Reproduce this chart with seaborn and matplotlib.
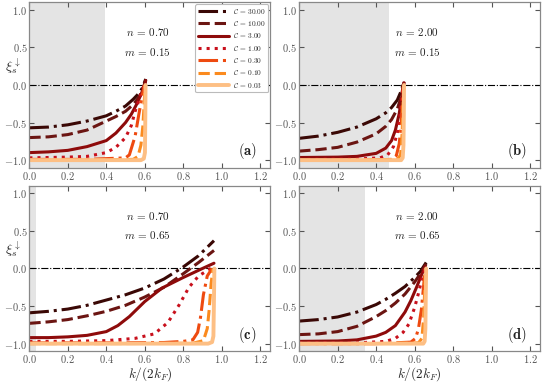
import matplotlib
matplotlib.use('Agg')
import matplotlib.pyplot as plt
import seaborn as sns
from matplotlib.ticker import FuncFormatter, MultipleLocator

# --- data ---
c_values = [30.00, 10.00, 3.00, 1.00, 0.30, 0.10, 0.03]
c_colors = ['#3a0805', '#6b1512', '#8e0b0b', '#c8101c', '#ee4a10', '#fb8a1e', '#fdbf84']
c_styles = ['-.', '--', '-', ':', '-.', '--', '-']

panel_tags = ['a', 'b', 'c', 'd']
panel_n = [0.70, 2.00, 0.70, 2.00]
panel_m = [0.15, 0.15, 0.65, 0.65]
shade_end = [0.393, 0.466, 0.033, 0.341]

# panel (a)
a_k = [
    [0.0, 0.1, 0.2, 0.3, 0.4, 0.45, 0.5, 0.54, 0.57, 0.59, 0.605],
    [0.0, 0.1, 0.2, 0.3, 0.4, 0.45, 0.5, 0.54, 0.57, 0.59, 0.605],
    [0.0, 0.1, 0.2, 0.3, 0.4, 0.45, 0.5, 0.53, 0.555, 0.58, 0.6, 0.605],
    [0.0, 0.2, 0.3, 0.4, 0.45, 0.5, 0.53, 0.55, 0.57, 0.585, 0.6],
    [0.0, 0.3, 0.5, 0.52, 0.55, 0.57, 0.59, 0.6],
    [0.0, 0.3, 0.54, 0.565, 0.58, 0.59, 0.597, 0.602],
    [0.0, 0.3, 0.58, 0.595, 0.601, 0.603, 0.604],
]
a_xi = [
    [-0.57, -0.56, -0.53, -0.48, -0.41, -0.35, -0.28, -0.19, -0.11, -0.03, 0.08],
    [-0.70, -0.69, -0.66, -0.60, -0.48, -0.42, -0.35, -0.26, -0.16, -0.06, 0.07],
    [-0.90, -0.89, -0.87, -0.82, -0.74, -0.64, -0.50, -0.39, -0.27, -0.13, 0.0, 0.06],
    [-0.97, -0.96, -0.95, -0.90, -0.83, -0.70, -0.54, -0.35, -0.20, -0.08, 0.02],
    [-0.99, -0.99, -0.97, -0.93, -0.68, -0.38, -0.10, 0.0],
    [-1.0, -1.0, -0.99, -0.95, -0.80, -0.55, -0.25, 0.0],
    [-1.0, -1.0, -1.0, -0.98, -0.90, -0.40, 0.0],
]

# panel (b)
b_k = [
    [0.0, 0.1, 0.2, 0.3, 0.4, 0.45, 0.48, 0.51, 0.53, 0.545],
    [0.0, 0.1, 0.2, 0.3, 0.4, 0.45, 0.48, 0.51, 0.53, 0.545],
    [0.0, 0.2, 0.3, 0.4, 0.45, 0.48, 0.5, 0.52, 0.535, 0.545],
    [0.0, 0.3, 0.42, 0.46, 0.49, 0.51, 0.525, 0.535, 0.54],
    [0.0, 0.3, 0.48, 0.505, 0.52, 0.53, 0.537, 0.542],
    [0.0, 0.3, 0.51, 0.527, 0.535, 0.54, 0.543],
    [0.0, 0.3, 0.53, 0.538, 0.542, 0.544, 0.545],
]
b_xi = [
    [-0.71, -0.68, -0.63, -0.56, -0.45, -0.37, -0.30, -0.20, -0.08, 0.06],
    [-0.88, -0.86, -0.83, -0.76, -0.65, -0.55, -0.46, -0.32, -0.16, 0.04],
    [-0.965, -0.96, -0.95, -0.91, -0.84, -0.74, -0.60, -0.38, -0.12, 0.03],
    [-0.99, -0.985, -0.97, -0.93, -0.82, -0.64, -0.40, -0.15, 0.0],
    [-1.0, -1.0, -0.99, -0.94, -0.78, -0.52, -0.22, 0.0],
    [-1.0, -1.0, -0.99, -0.93, -0.65, -0.25, 0.0],
    [-1.0, -1.0, -1.0, -0.97, -0.80, -0.35, 0.0],
]

# panel (c)
c_k = [
    [0.0, 0.1, 0.2, 0.3, 0.4, 0.5, 0.6, 0.7, 0.8, 0.88, 0.96],
    [0.0, 0.1, 0.2, 0.3, 0.4, 0.5, 0.6, 0.7, 0.8, 0.88, 0.96],
    [0.0, 0.1, 0.2, 0.3, 0.4, 0.46, 0.52, 0.6, 0.69, 0.8, 0.9, 0.96],
    [0.0, 0.2, 0.4, 0.55, 0.65, 0.72, 0.78, 0.83, 0.88, 0.93, 0.955],
    [0.0, 0.4, 0.7, 0.8, 0.85, 0.875, 0.89, 0.905, 0.925, 0.95],
    [0.0, 0.4, 0.85, 0.905, 0.925, 0.935, 0.945, 0.955],
    [0.0, 0.5, 0.93, 0.95, 0.957, 0.96, 0.962],
]
c_xi = [
    [-0.59, -0.57, -0.54, -0.49, -0.42, -0.35, -0.26, -0.14, 0.02, 0.17, 0.37],
    [-0.73, -0.71, -0.68, -0.63, -0.57, -0.49, -0.38, -0.25, -0.07, 0.08, 0.24],
    [-0.92, -0.92, -0.91, -0.89, -0.84, -0.76, -0.64, -0.44, -0.26, -0.12, 0.0, 0.07],
    [-0.97, -0.97, -0.96, -0.93, -0.87, -0.72, -0.48, -0.25, -0.10, -0.02, 0.02],
    [-0.99, -0.99, -0.985, -0.97, -0.95, -0.85, -0.65, -0.35, -0.10, 0.0],
    [-1.0, -1.0, -0.995, -0.96, -0.80, -0.55, -0.20, 0.0],
    [-1.0, -1.0, -1.0, -0.98, -0.90, -0.40, 0.0],
]

# panel (d)
d_k = [
    [0.0, 0.1, 0.2, 0.3, 0.4, 0.45, 0.5, 0.55, 0.6, 0.63, 0.66],
    [0.0, 0.1, 0.2, 0.3, 0.4, 0.45, 0.5, 0.55, 0.6, 0.63, 0.66],
    [0.0, 0.2, 0.3, 0.4, 0.45, 0.5, 0.55, 0.58, 0.61, 0.635, 0.655],
    [0.0, 0.3, 0.45, 0.5, 0.54, 0.57, 0.6, 0.62, 0.64, 0.655],
    [0.0, 0.4, 0.58, 0.605, 0.62, 0.635, 0.645, 0.655],
    [0.0, 0.4, 0.62, 0.638, 0.647, 0.653, 0.657],
    [0.0, 0.4, 0.645, 0.652, 0.656, 0.658, 0.66],
]
d_xi = [
    [-0.70, -0.68, -0.645, -0.58, -0.48, -0.41, -0.33, -0.24, -0.12, -0.04, 0.08],
    [-0.88, -0.87, -0.84, -0.77, -0.64, -0.56, -0.46, -0.34, -0.18, -0.07, 0.06],
    [-0.97, -0.965, -0.95, -0.90, -0.85, -0.76, -0.58, -0.43, -0.25, -0.09, 0.03],
    [-0.99, -0.99, -0.97, -0.93, -0.85, -0.74, -0.52, -0.33, -0.12, 0.0],
    [-1.0, -1.0, -0.98, -0.93, -0.80, -0.55, -0.28, 0.0],
    [-1.0, -1.0, -0.99, -0.93, -0.65, -0.25, 0.0],
    [-1.0, -1.0, -1.0, -0.97, -0.80, -0.35, 0.0],
]

panel_k = [a_k, b_k, c_k, d_k]
panel_xi = [a_xi, b_xi, c_xi, d_xi]

# --- style ---
sns.set_style('ticks')
plt.rcParams['font.family'] = ['DejaVu Serif']
plt.rcParams['mathtext.fontset'] = 'cm'
plt.rcParams['xtick.direction'] = 'in'
plt.rcParams['ytick.direction'] = 'in'
plt.rcParams['xtick.top'] = True
plt.rcParams['ytick.right'] = True

fig, axes = plt.subplots(2, 2, figsize=(5.44, 3.88), dpi=100)
fig.subplots_adjust(left=0.054, right=0.993, top=0.994, bottom=0.095,
                    wspace=0.12, hspace=0.11)

fmt = FuncFormatter(lambda v, p: r'$%.1f$' % v)

for i, ax in enumerate(axes.flat):
    ax.axvspan(0, shade_end[i], color='#e4e4e4', lw=0, zorder=0)
    ax.axhline(0, color='black', ls='-.', lw=0.8, zorder=1)
    for j, c in enumerate(c_values):
        lw = 2.8 if j == 6 else 2.2
        sns.lineplot(x=panel_k[i][j], y=panel_xi[i][j], ax=ax,
                     color=c_colors[j], linestyle=c_styles[j], lw=lw,
                     estimator=None, sort=False,
                     label=r'$\mathcal{C}\,=\,%.2f$' % c, legend=False)
    ax.set_xlim(0, 1.253)
    ax.set_ylim(-1.1, 1.1)
    ax.xaxis.set_major_locator(MultipleLocator(0.2))
    ax.yaxis.set_major_locator(MultipleLocator(0.5))
    ax.xaxis.set_major_formatter(fmt)
    ax.yaxis.set_major_formatter(fmt)
    ax.tick_params(labelsize=7.5, colors='#555555', length=3.5, width=0.8, pad=1.5)
    for s in ax.spines.values():
        s.set_color('#888888')
        s.set_linewidth(0.9)
    ax.text(0.49, 0.82, r'$n\,=\,%.2f$' % panel_n[i], transform=ax.transAxes,
            ha='center', va='center', fontsize=8, color='#222222')
    ax.text(0.49, 0.70, r'$m\,=\,%.2f$' % panel_m[i], transform=ax.transAxes,
            ha='center', va='center', fontsize=8, color='#222222')
    ax.text(0.905, 0.10, r'$(\mathbf{%s})$' % panel_tags[i], transform=ax.transAxes,
            ha='center', va='center', fontsize=10.5, color='#222222')
    ax.set_xlabel('')
    ax.set_ylabel('')
    if i % 2 == 0:
        ax.set_ylabel(r'$\xi_s^{\downarrow}$', rotation=0, fontsize=10)
        ax.yaxis.set_label_coords(-0.07, 0.555)
    if i >= 2:
        ax.set_xlabel(r'$k/(2k_F)$', fontsize=9.5, va='center')
        ax.xaxis.set_label_coords(0.5, -0.137)

leg = axes[0, 0].legend(loc='upper right', fontsize=5.3, handlelength=4.2,
                        frameon=True, framealpha=1, edgecolor='#bbbbbb',
                        borderaxespad=0.25, labelspacing=0.45, borderpad=0.35,
                        handletextpad=0.6)
leg.get_frame().set_linewidth(0.8)

fig.savefig('out.png', dpi=100)
